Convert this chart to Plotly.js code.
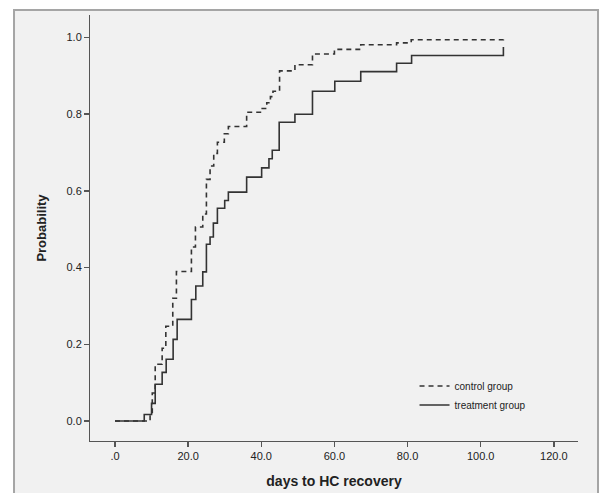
<!DOCTYPE html>
<html>
<head>
<meta charset="utf-8">
<script src="https://cdn.plot.ly/plotly-3.0.1.min.js"></script>
<style>
html,body{margin:0;padding:0;background:#ffffff;}
#chart{width:600px;height:493px;}
</style>
</head>
<body>
<div id="chart"></div>
<script>
// Control group (dashed) cumulative recovery probability, step function
const controlDays = [0, 9.6, 10.2, 11, 12.9, 13.9, 15.8, 16.8, 20.9, 22, 24, 25, 26, 27, 28, 29.9, 31, 36, 40, 41.5, 42.5, 43.2, 45, 49.2, 54, 60, 67.2, 77, 81, 106.2];
const controlProb = [0, 0.02, 0.073, 0.148, 0.19, 0.247, 0.32, 0.39, 0.454, 0.506, 0.54, 0.63, 0.665, 0.698, 0.727, 0.749, 0.768, 0.805, 0.815, 0.83, 0.846, 0.86, 0.913, 0.929, 0.957, 0.969, 0.981, 0.986, 0.994, 0.995];

// Treatment group (solid)
const treatDays = [0, 8, 10, 11, 12.9, 14, 15.9, 17, 20.9, 22.1, 24, 25, 26, 26.9, 28, 30, 31, 36, 40.1, 42.1, 43, 44.9, 49.2, 54, 60.1, 67.2, 77, 81.1, 106.2];
const treatProb = [0, 0.017, 0.046, 0.096, 0.127, 0.161, 0.213, 0.265, 0.317, 0.352, 0.389, 0.461, 0.48, 0.516, 0.555, 0.575, 0.597, 0.636, 0.66, 0.684, 0.706, 0.779, 0.80, 0.86, 0.886, 0.911, 0.933, 0.953, 0.975];

const xTickVals = [0, 20, 40, 60, 80, 100, 120];
const xTickText = [".0", "20.0", "40.0", "60.0", "80.0", "100.0", "120.0"];
const yTickVals = [0, 0.2, 0.4, 0.6, 0.8, 1.0];
const yTickText = ["0.0", "0.2", "0.4", "0.6", "0.8", "1.0"];

const traces = [
  {
    x: controlDays, y: controlProb, name: "control group",
    type: "scatter", mode: "lines",
    line: {shape: "hv", color: "#333333", width: 1.6, dash: "5px,4px"}
  },
  {
    x: treatDays, y: treatProb, name: "treatment group",
    type: "scatter", mode: "lines",
    line: {shape: "hv", color: "#333333", width: 1.6}
  }
];

const layout = {
  width: 600, height: 493,
  margin: {l: 90, r: 22, t: 15, b: 52},
  paper_bgcolor: "#ffffff",
  plot_bgcolor: "rgba(0,0,0,0)",
  font: {family: "Liberation Sans, Arial, sans-serif", size: 11, color: "#222222"},
  showlegend: true,
  legend: {
    x: 0.665, y: 0.163, xanchor: "left", yanchor: "top",
    bgcolor: "rgba(0,0,0,0)", borderwidth: 0,
    font: {size: 10, color: "#222222"},
    itemwidth: 30, tracegroupgap: 0
  },
  xaxis: {
    range: [-6.83, 126.6],
    tickvals: xTickVals, ticktext: xTickText,
    showgrid: false, zeroline: false,
    showline: true, linecolor: "#555555", linewidth: 1,
    ticks: "outside", ticklen: 5, tickcolor: "#555555", tickwidth: 1.5,
    title: {text: "<b>days to HC recovery</b>", font: {size: 14, color: "#222222"}, standoff: 14}
  },
  yaxis: {
    range: [-0.052, 1.0587],
    tickvals: yTickVals, ticktext: yTickText,
    showgrid: false, zeroline: false,
    showline: true, linecolor: "#555555", linewidth: 1,
    ticks: "outside", ticklen: 5, tickcolor: "#555555", tickwidth: 1.5,
    title: {text: "<b>Probability</b>", font: {size: 13, color: "#222222"}, standoff: 16}
  },
  shapes: [
    {
      type: "rect", xref: "paper", yref: "paper", layer: "below",
      x0: -0.1557, x1: 1.0410, y0: -0.15, y1: 1.0117,
      line: {color: "#a5a5a5", width: 2},
      fillcolor: "#f1f1f1"
    }
  ]
};

Plotly.newPlot("chart", traces, layout, {displayModeBar: false, staticPlot: true});
</script>
</body>
</html>
